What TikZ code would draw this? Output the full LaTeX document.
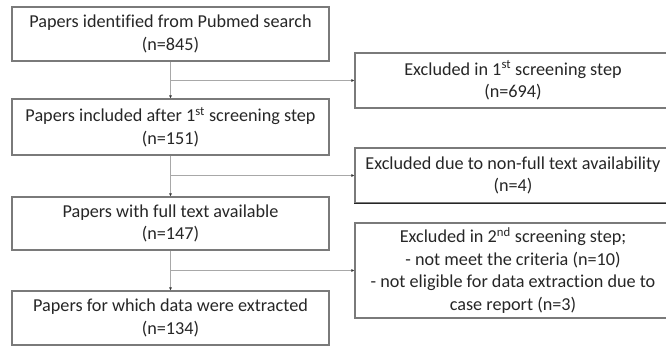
\documentclass[tikz,border=0pt]{standalone}
\usepackage{fontspec}
\setmainfont[Ligatures=NoCommon]{Carlito}
\usetikzlibrary{arrows.meta}
\definecolor{boxc}{HTML}{7A7A7A}
\definecolor{linec}{HTML}{A8A8A8}
\definecolor{txtc}{HTML}{262626}
\begin{document}
\begin{tikzpicture}[x=1pt,y=-1pt,
  box/.style={draw=boxc,line width=1.1pt,inner sep=0pt,align=center,text=txtc,
    font=\fontsize{18.2}{22.5}\selectfont},
  conn/.style={draw=linec,line width=1pt,-{Latex[length=3pt,width=3pt,color=black!80]}},
  plain/.style={draw=linec,line width=1pt}]
\useasboundingbox (0,0) rectangle (666,346);
\clip (0,0) rectangle (666,346);
% left boxes
\node[box,minimum width=317pt,minimum height=54pt] (b1) at (170.5,34) {Papers identified from Pubmed search\\(n=845)};
\node[box,minimum width=317pt,minimum height=56pt] (b2) at (170.5,127) {Papers included after 1\textsuperscript{st} screening step\\(n=151)};
\node[box,minimum width=317pt,minimum height=53pt] (b3) at (170.5,223.5) {Papers with full text available\\(n=147)};
\node[box,minimum width=317pt,minimum height=54pt] (b4) at (170.5,318) {Papers for which data were extracted\\(n=134)};
% right boxes
\node[box,minimum width=316pt,minimum height=55pt] (r1) at (513,80.5) {Excluded in 1\textsuperscript{st} screening step\\(n=694)};
\node[box,minimum width=316pt,minimum height=55pt] (r2) at (513,175.5) {Excluded due to non-full text availability\\(n=4)};
\node[box,minimum width=316pt,minimum height=95pt] (r3) at (513,270.5) {Excluded in 2\textsuperscript{nd} screening step;\\- not meet the criteria (n=10)\\- not eligible for data extraction due to\\case report (n=3)};
\draw[draw=black!85,line width=1.3pt] (r2.south west) -- (r2.south east);
% connectors
\draw[conn] (b1) -- (b2);
\draw[conn] (b2) -- (b3);
\draw[conn] (b3) -- (b4);
\coordinate (j1) at (b1.south |- r1.west);
\coordinate (j2) at (b2.south |- r2.west);
\coordinate (j3) at (b3.south |- r3.west);
\draw[conn] (j1) -- (r1.west);
\draw[conn] (j2) -- (r2.west);
\draw[conn] (j3) -- (r3.west);
\end{tikzpicture}
\end{document}
